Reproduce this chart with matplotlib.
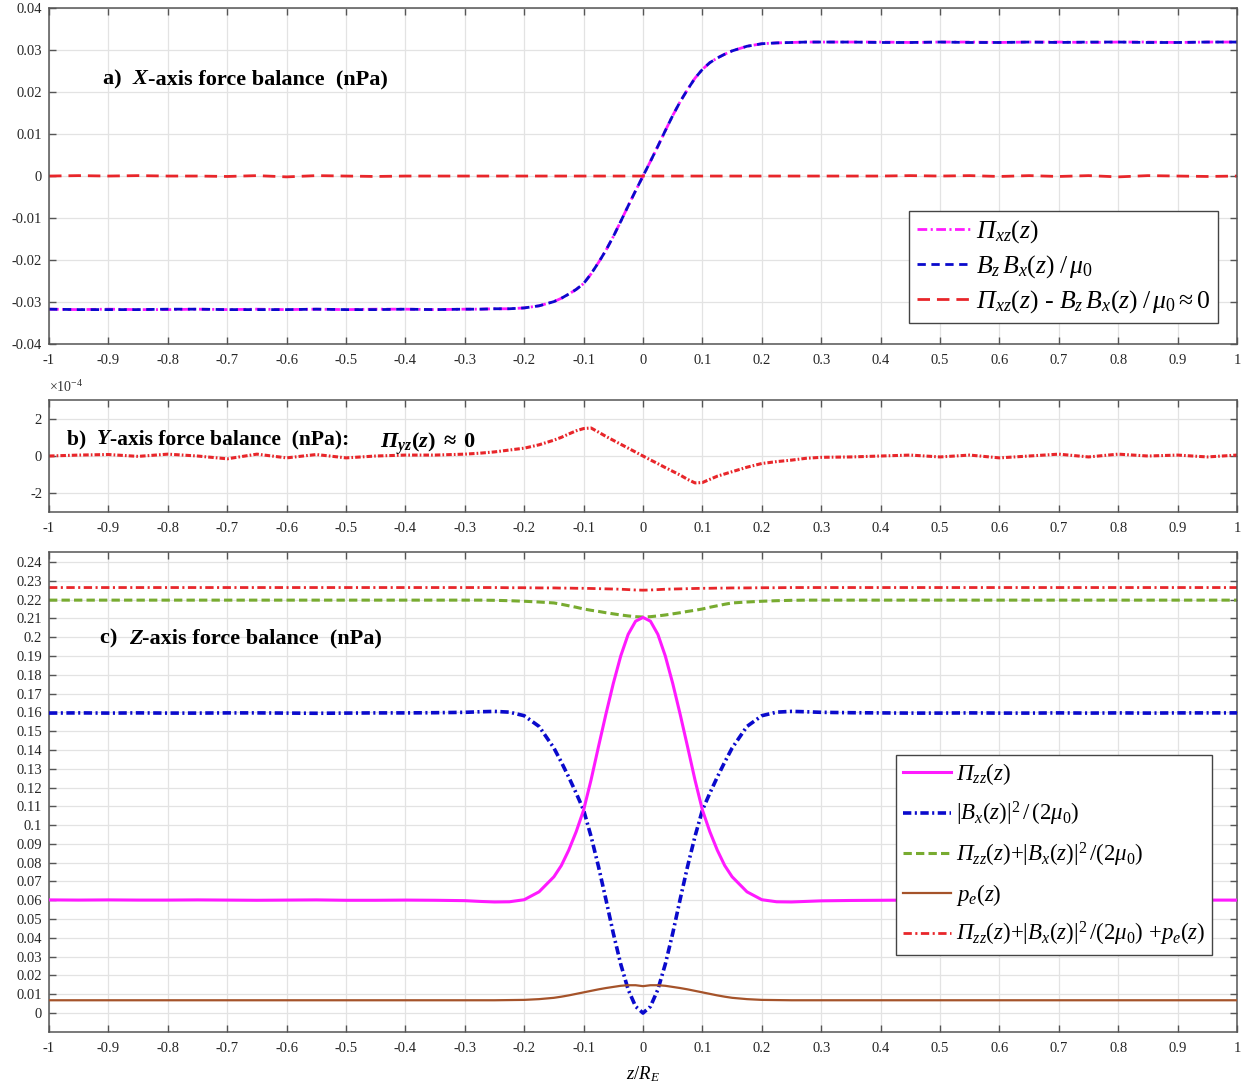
import numpy as np
import matplotlib
matplotlib.use('Agg')
import matplotlib.pyplot as plt
from matplotlib.ticker import FuncFormatter

plt.rcParams['font.family'] = ['Liberation Serif', 'DejaVu Serif']
plt.rcParams['mathtext.fontset'] = 'custom'
plt.rcParams['mathtext.rm'] = 'Liberation Serif'
plt.rcParams['mathtext.it'] = 'Liberation Serif:italic'
plt.rcParams['mathtext.bf'] = 'Liberation Serif:bold'
# italic capital greek (mathit forces upright capitals, so use the sf slot)
plt.rcParams['mathtext.sf'] = 'Liberation Serif:italic'
plt.rcParams['mathtext.tt'] = 'Liberation Serif:bold:italic'
plt.rcParams['axes.unicode_minus'] = False
plt.rcParams['lines.scale_dashes'] = False
plt.rcParams['xtick.direction'] = 'in'
plt.rcParams['ytick.direction'] = 'in'
plt.rcParams['xtick.top'] = True
plt.rcParams['ytick.right'] = True

# z / R_E sample positions
z = [-1.0, -0.95, -0.9, -0.85, -0.8, -0.75, -0.7, -0.65, -0.6, -0.55, -0.5, -0.45, -0.4, -0.35,
     -0.3, -0.275, -0.25, -0.225, -0.2, -0.175,
     -0.15, -0.1375, -0.125, -0.1125, -0.1, -0.0875, -0.075, -0.0625, -0.05, -0.0375, -0.025, -0.0125, 0.0,
     0.0125, 0.025, 0.0375, 0.05, 0.0625, 0.075, 0.0875, 0.1, 0.1125, 0.125, 0.1375, 0.15,
     0.175, 0.2, 0.225, 0.25, 0.275, 0.3,
     0.35, 0.4, 0.45, 0.5, 0.55, 0.6, 0.65, 0.7, 0.75, 0.8, 0.85, 0.9, 0.95, 1.0]

# panel a (nPa)
pi_xz = [-0.0317, -0.0318, -0.0317, -0.0318, -0.0318, -0.0317, -0.0318, -0.0317, -0.0318, -0.0317, -0.0318, -0.0317, -0.0317, -0.0318,
         -0.0317, -0.0317, -0.0316, -0.0316, -0.0314, -0.0309,
         -0.0299, -0.0291, -0.0281, -0.0270, -0.0256, -0.0233, -0.0206, -0.0177, -0.0144, -0.0108, -0.0071, -0.0035, 0.0,
         0.0035, 0.0071, 0.0108, 0.0144, 0.0177, 0.0206, 0.0233, 0.0254, 0.0270, 0.0281, 0.0290, 0.0298,
         0.0309, 0.0315, 0.0317, 0.0318, 0.0319, 0.0319,
         0.0319, 0.0319, 0.0318, 0.0319, 0.0319, 0.0318, 0.0319, 0.0319, 0.0318, 0.0319, 0.0319, 0.0318, 0.0319, 0.0319]
bzbx = [-0.0317, -0.0318, -0.0318, -0.0318, -0.0317, -0.0317, -0.0318, -0.0318, -0.0318, -0.0317, -0.0318, -0.0318, -0.0317, -0.0318,
        -0.0317, -0.0317, -0.0316, -0.0316, -0.0314, -0.0309,
        -0.0299, -0.0291, -0.0281, -0.0270, -0.0256, -0.0233, -0.0206, -0.0177, -0.0144, -0.0108, -0.0071, -0.0035, 0.0,
        0.0035, 0.0071, 0.0108, 0.0144, 0.0177, 0.0206, 0.0233, 0.0254, 0.0270, 0.0281, 0.0290, 0.0298,
        0.0309, 0.0315, 0.0317, 0.0318, 0.0319, 0.0319,
        0.0319, 0.0318, 0.0318, 0.0319, 0.0318, 0.0318, 0.0319, 0.0318, 0.0319, 0.0319, 0.0318, 0.0318, 0.0319, 0.0319]
diff_a = [0.0, 0.0001, 0.0, 0.0001, 0.0, 0.0, -0.0001, 0.0001, -0.0002, 0.0001, 0.0, -0.0001, 0.0, 0.0,
          0.0, 0.0, 0.0, 0.0, 0.0, 0.0,
          0.0, 0.0, 0.0, 0.0, 0.0, 0.0, 0.0, 0.0, 0.0, 0.0, 0.0, 0.0, 0.0,
          0.0, 0.0, 0.0, 0.0, 0.0, 0.0, 0.0, 0.0, 0.0, 0.0, 0.0, 0.0,
          0.0, 0.0, 0.0, 0.0, 0.0, 0.0,
          0.0, 0.0, 0.0001, 0.0, 0.0001, -0.0001, 0.0001, -0.0001, 0.0001, -0.0002, 0.0001, 0.0, -0.0001, 0.0]

# panel b (x 1e-4 nPa)
pi_yz = [0.0, 0.05, 0.08, -0.02, 0.1, 0.0, -0.15, 0.1, -0.1, 0.08, -0.1, 0.0, 0.05, 0.05,
         0.1, 0.15, 0.22, 0.32, 0.42, 0.6,
         0.85, 1.0, 1.18, 1.35, 1.47, 1.5, 1.28, 1.05, 0.84, 0.63, 0.42, 0.21, 0.0,
         -0.21, -0.41, -0.62, -0.82, -1.02, -1.25, -1.44, -1.42, -1.25, -1.08, -0.96, -0.84,
         -0.6, -0.4, -0.3, -0.22, -0.12, -0.07,
         -0.05, 0.0, 0.05, -0.05, 0.05, -0.1, 0.0, 0.1, -0.05, 0.1, 0.0, 0.05, -0.05, 0.05]

# panel c (nPa)
pi_zz = [0.0602, 0.0601, 0.0602, 0.0601, 0.0601, 0.0602, 0.0601, 0.0600, 0.0601, 0.0602, 0.0600, 0.0600, 0.0601, 0.0600,
         0.0598, 0.0594, 0.0591, 0.0592, 0.0603, 0.0645,
         0.0725, 0.0785, 0.0867, 0.0965, 0.108, 0.124, 0.1417, 0.159, 0.1754, 0.190, 0.2015, 0.2085, 0.2105,
         0.2085, 0.2015, 0.190, 0.1754, 0.159, 0.1417, 0.124, 0.108, 0.0965, 0.0867, 0.0785, 0.0725,
         0.0645, 0.0603, 0.0592, 0.0591, 0.0594, 0.0597,
         0.0599, 0.0600, 0.0601, 0.0601, 0.0600, 0.0601, 0.0602, 0.0601, 0.0601, 0.0600, 0.0601, 0.0601, 0.0601, 0.0601]
bx2 = [0.1596, 0.1597, 0.1596, 0.1597, 0.1596, 0.1596, 0.1597, 0.1597, 0.1596, 0.1595, 0.1596, 0.1597, 0.1597, 0.1598,
       0.1600, 0.1603, 0.1605, 0.1601, 0.1582, 0.1525,
       0.1410, 0.1335, 0.1255, 0.1170, 0.1080, 0.0940, 0.0780, 0.0605, 0.0424, 0.0260, 0.0125, 0.0035, 0.0,
       0.0035, 0.0125, 0.0260, 0.0424, 0.0605, 0.0780, 0.0940, 0.1080, 0.1170, 0.1255, 0.1335, 0.1410,
       0.1525, 0.1582, 0.1601, 0.1605, 0.1603, 0.1600,
       0.1598, 0.1597, 0.1596, 0.1596, 0.1597, 0.1596, 0.1596, 0.1597, 0.1596, 0.1597, 0.1596, 0.1597, 0.1597, 0.1597]
zz_plus_b = [0.2197, 0.2197, 0.2197, 0.2197, 0.2197, 0.2197, 0.2197, 0.2197, 0.2197, 0.2197, 0.2197, 0.2197, 0.2197, 0.2197,
             0.2197, 0.2197, 0.2196, 0.2194, 0.2191, 0.2187,
             0.2182, 0.2175, 0.2167, 0.2159, 0.2150, 0.2143, 0.2137, 0.2130, 0.2124, 0.2118, 0.2113, 0.2109, 0.2107,
             0.2109, 0.2113, 0.2118, 0.2124, 0.2130, 0.2137, 0.2143, 0.2150, 0.2159, 0.2167, 0.2175, 0.2182,
             0.2187, 0.2191, 0.2194, 0.2196, 0.2197, 0.2197,
             0.2197, 0.2197, 0.2197, 0.2197, 0.2197, 0.2197, 0.2197, 0.2197, 0.2197, 0.2197, 0.2197, 0.2197, 0.2197, 0.2197]
p_e = [0.0068, 0.0068, 0.0068, 0.0068, 0.0068, 0.0068, 0.0068, 0.0068, 0.0068, 0.0068, 0.0068, 0.0068, 0.0068, 0.0068,
       0.0068, 0.0068, 0.0068, 0.0069, 0.0070, 0.0074,
       0.0081, 0.0087, 0.0094, 0.0102, 0.0110, 0.0118, 0.0126, 0.0133, 0.0139, 0.0145, 0.0148, 0.0148, 0.0143,
       0.0148, 0.0148, 0.0145, 0.0139, 0.0133, 0.0126, 0.0118, 0.0110, 0.0102, 0.0094, 0.0087, 0.0081,
       0.0074, 0.0070, 0.0069, 0.0068, 0.0068, 0.0068,
       0.0068, 0.0068, 0.0068, 0.0068, 0.0068, 0.0068, 0.0068, 0.0068, 0.0068, 0.0068, 0.0068, 0.0068, 0.0068, 0.0068]
total = [0.2264, 0.2264, 0.2264, 0.2264, 0.2264, 0.2264, 0.2264, 0.2264, 0.2264, 0.2264, 0.2264, 0.2264, 0.2264, 0.2264,
         0.2264, 0.2264, 0.2264, 0.2263, 0.2263, 0.2262,
         0.2262, 0.2261, 0.2261, 0.2260, 0.2260, 0.2259, 0.2258, 0.2257, 0.2256, 0.2255, 0.2253, 0.2251, 0.2250,
         0.2251, 0.2253, 0.2255, 0.2256, 0.2257, 0.2258, 0.2259, 0.2260, 0.2260, 0.2261, 0.2261, 0.2262,
         0.2262, 0.2263, 0.2263, 0.2264, 0.2264, 0.2264,
         0.2264, 0.2264, 0.2264, 0.2264, 0.2264, 0.2264, 0.2264, 0.2264, 0.2264, 0.2264, 0.2264, 0.2264, 0.2264, 0.2264]

xticks = np.round(np.arange(-1, 1.0001, 0.1), 1)

MAGENTA = '#ff1aff'
BLUE = '#0a0acc'
RED = '#e8262a'
GREEN = '#78ab30'
BROWN = '#a5532a'
SPINE = '#555555'


def fmt(v, p):
    if abs(v) < 1e-9:
        return '0'
    return '%g' % round(v, 4)


def style(ax):
    ax.set_xlim(-1, 1)
    ax.set_xticks(xticks)
    ax.xaxis.set_major_formatter(FuncFormatter(fmt))
    ax.yaxis.set_major_formatter(FuncFormatter(fmt))
    ax.grid(True, color='#e3e3e3', lw=0.9)
    ax.set_axisbelow(True)
    ax.tick_params(length=5, width=1, colors=SPINE, labelcolor='#262626', labelsize=10.5)
    ax.tick_params(axis='x', pad=7)
    ax.tick_params(axis='y', pad=5)
    for s in ax.spines.values():
        s.set_color(SPINE)
        s.set_linewidth(1.1)


def title(ax, x, y, pre, ital, post, size=16):
    t = ax.text(x, y, pre, transform=ax.transAxes, fontsize=size, fontweight='bold', va='bottom', ha='left')
    t = ax.annotate(ital, xy=(1, 0), xycoords=t, fontsize=size, fontweight='bold', fontstyle='italic',
                    va='bottom', ha='left')
    t = ax.annotate(post, xy=(1, 0), xycoords=t, fontsize=size, fontweight='bold', va='bottom', ha='left')
    return t


def legend(ax, handles, labels, anchor, size, spacing):
    leg = ax.legend(handles, labels, loc='lower right', bbox_to_anchor=anchor, fontsize=size, frameon=True,
                    fancybox=False, framealpha=1, edgecolor='#444444', handlelength=2.1, handletextpad=0.2,
                    labelspacing=spacing, borderpad=0.3, borderaxespad=0)
    leg.get_frame().set_linewidth(1.0)
    return leg


fig = plt.figure(figsize=(12.47, 10.86), dpi=100)

# ---- a) X-axis
ax1 = fig.add_axes([0.0393, 0.6832, 0.9527, 0.3094])
l1, = ax1.plot(z, pi_xz, color=MAGENTA, lw=2, dashes=(7, 2.5, 1.5, 2.5))
l2, = ax1.plot(z, bzbx, color=BLUE, lw=2, dashes=(6, 4))
l3, = ax1.plot(z, diff_a, color=RED, lw=2, dashes=(9, 5))
ax1.set_ylim(-0.04, 0.04)
ax1.set_yticks(np.round(np.arange(-0.04, 0.0401, 0.01), 2))
style(ax1)
title(ax1, 0.0455, 0.758, 'a)  ', 'X', '-axis force balance  (nPa)')
legend(ax1, [l1, l2, l3],
       [r'$\mathsf{\Pi}_{xz}(z)$',
        r'$B_z\,B_x(z)\;/\,\mu_0$',
        r'$\mathsf{\Pi}_{xz}(z)$ - $B_z\,B_x(z)\;/\,\mu_0 \approx 0$'],
       (0.984, 0.0625), 18.5, 0.32)

# ---- b) Y-axis
ax2 = fig.add_axes([0.0393, 0.5285, 0.9527, 0.1032])
ax2.plot(z, pi_yz, color=RED, lw=2.2, dashes=(4, 1.5, 1.2, 1.5))
ax2.set_ylim(-3, 3)
ax2.set_yticks([-2, 0, 2])
style(ax2)
t = title(ax2, 0.015, 0.56, 'b)  ', 'Y', '-axis force balance  (nPa):', size=15.5)
ax2.annotate(r'$\mathtt{\Pi}_{\mathtt{yz}}\mathbf{(}\mathtt{z}\mathbf{)}\ \mathbf{\approx}\ \mathbf{0}$',
             xy=(1, 0), xycoords=t, xytext=(22, -5.5), textcoords='offset points', fontsize=16,
             va='bottom', ha='left')
ax2.text(0.0, 1.04, r'$\times$10$^{\mathrm{-4}}$', transform=ax2.transAxes, fontsize=10, color='#333333',
         ha='left', va='bottom')

# ---- c) Z-axis
ax3 = fig.add_axes([0.0393, 0.0497, 0.9527, 0.442])
h_tot, = ax3.plot(z, total, color=RED, lw=2, dashes=(6, 2.5, 1.5, 2.5), zorder=2)
h_grn, = ax3.plot(z, zz_plus_b, color=GREEN, lw=2.2, dashes=(6, 3), zorder=2)
h_bx, = ax3.plot(z, bx2, color=BLUE, lw=2.6, dashes=(6, 2.5, 1.5, 2.5), zorder=3)
h_zz, = ax3.plot(z, pi_zz, color=MAGENTA, lw=2.2, zorder=4)
h_pe, = ax3.plot(z, p_e, color=BROWN, lw=1.6, zorder=4)
ax3.set_ylim(-0.0101, 0.2453)
ax3.set_yticks(np.round(np.arange(0, 0.2401, 0.01), 2))
style(ax3)
title(ax3, 0.043, 0.798, 'c)  ', 'Z', '-axis force balance  (nPa)')
ax3.set_xlabel(r'$z/R_E$', fontsize=13.5, labelpad=7)

legend(ax3, [h_zz, h_bx, h_grn, h_pe, h_tot],
       [r'$\mathsf{\Pi}_{zz}(z)$',
        r'$|B_x(z)|^2\,/\,(2\mu_0)$',
        r'$\mathsf{\Pi}_{zz}(z)$+$|B_x(z)|^2\,/(2\mu_0)$',
        r'$p_e(z)$',
        r'$\mathsf{\Pi}_{zz}(z)$+$|B_x(z)|^2\,/(2\mu_0)$ +$p_e(z)$'],
       (0.979, 0.16), 16.5, 0.55)

fig.savefig('out.png', dpi=100)
